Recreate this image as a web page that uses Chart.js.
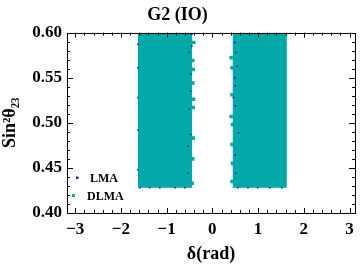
<!DOCTYPE html>
<html><head><meta charset="utf-8">
<script src="https://cdn.jsdelivr.net/npm/chart.js@4/dist/chart.umd.min.js"></script>
<style>html,body{margin:0;padding:0;background:#fff}#wrap{width:360px;height:267px}</style>
</head><body><div id="wrap"><canvas id="c" width="360" height="267"></canvas></div>
<script>
// Axis ranges and ticks
const xRange = [-3.18, 3.12];
const yRange = [0.40, 0.60];
const xTickStep = 1, xMinorStep = 0.2;
const yTickStep = 0.05, yMinorStep = 0.01;
const titleText = 'G2 (IO)';
const xTitle = 'δ(rad)';
const yTitle = 'Sin²θ₂₃';
const seriesNames = ['LMA', 'DLMA'];

// DLMA dense regions (δ range, sin²θ23 range)
const dlmaBandLeft = [-1.63, -0.44];
const dlmaBandRight = [0.44, 1.63];
const dlmaSinRange = [0.428, 0.60];
// DLMA points sticking out of the ragged inner edges
const dlmaEdgeX = [-0.41, -0.43, -0.42, -0.43, -0.41, -0.42, -0.42, -0.43, -0.44,
                   0.41, 0.43, 0.43, 0.41, 0.44, 0.43, 0.44, 0.43];
const dlmaEdgeY = [0.589, 0.569, 0.559, 0.544, 0.526, 0.517, 0.483, 0.460, 0.433,
                   0.572, 0.561, 0.531, 0.507, 0.498, 0.476, 0.455, 0.435];
// LMA points visible at the edges
const lmaX = [-0.45, -0.45, -0.51, -0.47, -0.48, -0.51, -0.47, -0.53, -0.53,
              -1.63, -1.63, -1.63, -1.63, -1.63,
              -1.58, -1.37, -1.15, -0.82, -0.60,
              0.49, 0.51, 0.54, 0.49, 0.50, 0.46, 0.50, 0.57, 0.50, 0.51,
              0.56, 0.78, 0.99, 1.26, 1.52];
const lmaY = [0.598, 0.585, 0.578, 0.554, 0.535, 0.515, 0.487, 0.474, 0.444,
              0.587, 0.561, 0.528, 0.492, 0.448,
              0.428, 0.428, 0.428, 0.428, 0.428,
              0.589, 0.578, 0.563, 0.550, 0.541, 0.528, 0.519, 0.489, 0.464, 0.444,
              0.428, 0.428, 0.428, 0.428, 0.428];

const teal = '#03a9a9';
const navy = '#1c1ca6';
const serif = '"Liberation Serif", "DejaVu Serif", serif';

function pts(xs, ys) { return xs.map((x, i) => ({x, y: ys[i]})); }
function bandTop(b) { return [{x: b[0], y: dlmaSinRange[1]}, {x: b[1], y: dlmaSinRange[1]}]; }

const decor = {
  id: 'decor',
  afterDraw(chart) {
    const {ctx, chartArea: a, scales: {x, y}} = chart;
    ctx.save();
    ctx.strokeStyle = '#000';
    ctx.lineWidth = 1;
    ctx.beginPath();
    for (let v = Math.ceil(xRange[0] / xMinorStep) * xMinorStep; v <= xRange[1] + 1e-9; v += xMinorStep) {
      const px = Math.round(x.getPixelForValue(v)) + 0.5;
      const major = Math.abs(v - Math.round(v / xTickStep) * xTickStep) < 1e-6;
      const L = major ? 5 : 3;
      ctx.moveTo(px, a.bottom); ctx.lineTo(px, a.bottom - L);
      ctx.moveTo(px, a.top); ctx.lineTo(px, a.top + L);
    }
    for (let v = yRange[0]; v <= yRange[1] + 1e-9; v += yMinorStep) {
      const py = Math.round(y.getPixelForValue(v)) + 0.5;
      const major = Math.abs(v / yTickStep - Math.round(v / yTickStep)) < 1e-6;
      const L = major ? 6 : 3;
      ctx.moveTo(a.left, py); ctx.lineTo(a.left + L, py);
      ctx.moveTo(a.right, py); ctx.lineTo(a.right - L, py);
    }
    ctx.stroke();
    ctx.strokeRect(Math.round(a.left) + 0.5, Math.round(a.top) + 0.5,
                   Math.round(a.right - a.left), Math.round(a.bottom - a.top));
    // legend
    ctx.fillStyle = navy;
    ctx.fillRect(76, 176.5, 2.5, 2.5);
    ctx.fillStyle = teal;
    ctx.fillRect(72, 194, 3, 3);
    ctx.fillStyle = '#000';
    ctx.font = 'bold 12px ' + serif;
    ctx.textBaseline = 'middle';
    ctx.textAlign = 'left';
    ctx.fillText(seriesNames[0], 90, 179);
    ctx.fillText(seriesNames[1], 87, 197);
    ctx.restore();
  }
};

new Chart(document.getElementById('c'), {
  type: 'scatter',
  data: {
    datasets: [
      {label: seriesNames[1] + ' L', data: bandTop(dlmaBandLeft), showLine: true, borderWidth: 0,
       pointRadius: 0, backgroundColor: teal, borderColor: teal,
       fill: {target: {value: dlmaSinRange[0]}}, order: 3},
      {label: seriesNames[1] + ' R', data: bandTop(dlmaBandRight), showLine: true, borderWidth: 0,
       pointRadius: 0, backgroundColor: teal, borderColor: teal,
       fill: {target: {value: dlmaSinRange[0]}}, order: 3},
      {label: seriesNames[1], data: pts(dlmaEdgeX, dlmaEdgeY), pointStyle: 'rect', pointRadius: 2.5,
       backgroundColor: teal, borderWidth: 0, order: 2},
      {label: seriesNames[0], data: pts(lmaX, lmaY), pointStyle: 'rect', pointRadius: 1.1,
       backgroundColor: navy, borderWidth: 0, order: 1}
    ]
  },
  options: {
    responsive: false, animation: false, events: [],
    layout: {padding: {left: 0, right: 5, top: 0, bottom: 0}},
    plugins: {
      legend: {display: false}, tooltip: {enabled: false},
      title: {display: true, text: titleText, color: '#000',
              font: {family: serif, size: 18, weight: 'bold'}, padding: {top: 5, bottom: 6}}
    },
    scales: {
      x: {type: 'linear', min: xRange[0], max: xRange[1],
          afterFit(s) { s.height = 54; },
          grid: {display: false, drawTicks: false}, border: {display: false},
          ticks: {stepSize: xTickStep, includeBounds: false, color: '#000', padding: 6, maxRotation: 0,
                  font: {family: serif, size: 17, weight: 'bold'},
                  callback: v => String(v).replace('-', '\u2212')},
          title: {display: true, text: xTitle, color: '#000', padding: {top: 0, bottom: 2},
                  font: {family: serif, size: 18, weight: 'bold'}}},
      y: {type: 'linear', min: yRange[0], max: yRange[1],
          afterFit(s) { s.width = 67; },
          grid: {display: false, drawTicks: false}, border: {display: false},
          ticks: {stepSize: yTickStep, color: '#000', padding: 5,
                  font: {family: serif, size: 17, weight: 'bold'},
                  callback: v => v.toFixed(2)},
          title: {display: true, text: yTitle, color: '#000', padding: {top: 0, bottom: 0},
                  font: {family: serif, size: 18, weight: 'bold'}}}
    }
  },
  plugins: [decor]
});
</script></body></html>
